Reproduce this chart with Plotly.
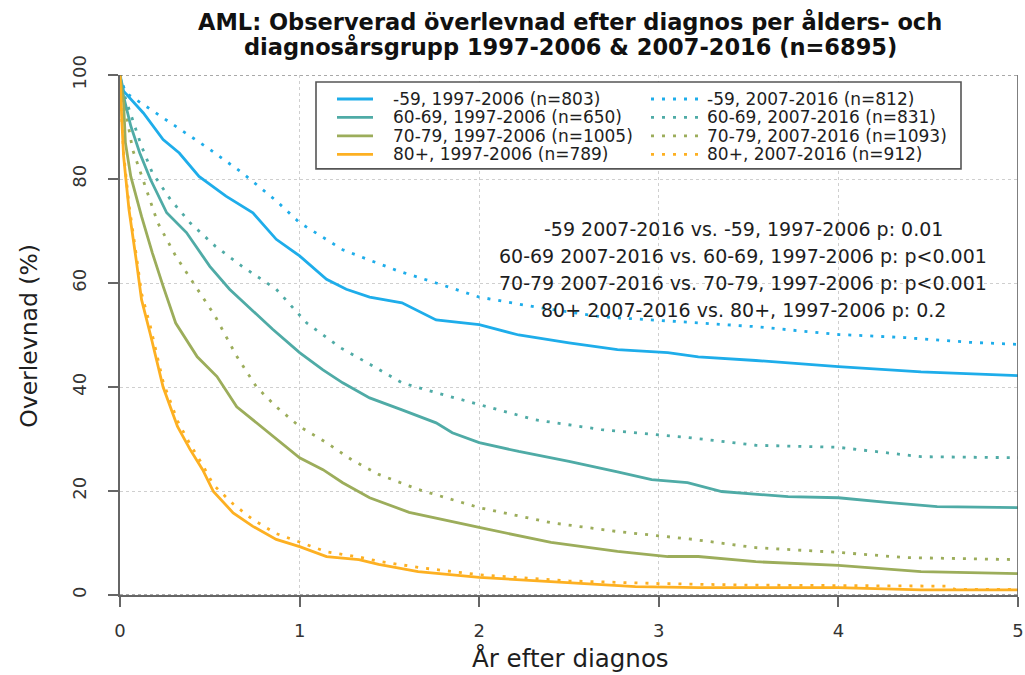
import plotly.graph_objects as go

# Kaplan-Meier observed survival (%) by age group and diagnosis period
t_u59_9706 = [0, 0.02, 0.13, 0.24, 0.33, 0.44, 0.59, 0.74, 0.87, 1.0, 1.15, 1.26, 1.39, 1.57, 1.76, 2.0,
              2.22, 2.5, 2.77, 3.05, 3.22, 3.54, 4.0, 4.46, 5.0]
s_u59_9706 = [100, 96.9, 92.7, 87.6, 85.0, 80.5, 76.7, 73.5, 68.4, 65.2, 60.7, 58.8, 57.3, 56.2, 52.9, 52.0,
              50.0, 48.5, 47.2, 46.6, 45.8, 45.1, 43.9, 42.9, 42.2]

t_u59_0716 = [0, 0.03, 0.17, 0.31, 0.5, 0.68, 0.87, 1.0, 1.24, 1.39, 1.55, 1.76, 2.0, 2.31, 2.68, 3.19,
              3.54, 4.0, 4.37, 4.73, 5.0]
s_u59_0716 = [100, 96.6, 93.4, 90.2, 85.7, 81.2, 75.8, 71.6, 66.4, 64.4, 62.3, 60.0, 57.3, 55.4, 53.5, 52.4,
              51.6, 50.1, 49.5, 48.6, 48.2]

t_6069_9706 = [0, 0.02, 0.06, 0.11, 0.17, 0.26, 0.37, 0.50, 0.61, 0.73, 0.85, 1.0, 1.13, 1.24, 1.39, 1.57,
               1.76, 1.85, 2.0, 2.22, 2.5, 2.77, 2.96, 3.16, 3.35, 3.72, 4.0, 4.27, 4.55, 5.0]
s_6069_9706 = [100, 95.9, 90.2, 85.0, 79.9, 73.5, 69.7, 63.2, 58.8, 54.9, 51.1, 46.6, 43.3, 40.8, 37.9, 35.6,
               33.1, 31.2, 29.3, 27.6, 25.7, 23.7, 22.2, 21.6, 19.9, 18.9, 18.7, 17.8, 17.0, 16.8]

t_6069_0716 = [0, 0.02, 0.07, 0.12, 0.18, 0.28, 0.39, 0.53, 0.68, 0.87, 1.04, 1.23, 1.40, 1.57, 1.76, 2.0,
               2.31, 2.68, 3.16, 3.54, 4.0, 4.46, 5.0]
s_6069_0716 = [100, 96.6, 91.4, 86.3, 81.2, 76.1, 71.6, 67.1, 63.2, 58.8, 52.3, 47.5, 44.2, 40.8, 38.9, 36.6,
               33.7, 31.8, 30.3, 28.8, 28.4, 26.6, 26.4]

t_7079_9706 = [0, 0.02, 0.03, 0.06, 0.12, 0.18, 0.24, 0.31, 0.43, 0.54, 0.65, 0.76, 0.87, 1.0, 1.13, 1.24,
               1.39, 1.61, 2.0, 2.4, 2.77, 3.05, 3.22, 3.54, 4.0, 4.46, 5.0]
s_7079_9706 = [100, 94.7, 87.0, 80.5, 72.8, 65.8, 59.4, 52.3, 45.8, 42.0, 36.2, 33.1, 29.9, 26.4, 24.1, 21.6,
               18.7, 15.9, 13.0, 10.1, 8.4, 7.4, 7.4, 6.4, 5.7, 4.5, 4.1]

t_7079_0716 = [0, 0.02, 0.07, 0.14, 0.21, 0.31, 0.42, 0.53, 0.65, 0.76, 0.87, 1.0, 1.15, 1.29, 1.44, 1.66,
               2.0, 2.4, 2.77, 3.19, 3.54, 4.0, 4.37, 5.0]
s_7079_0716 = [100, 95.3, 85.7, 78.6, 71.6, 65.2, 59.4, 53.6, 45.9, 40.0, 36.2, 32.4, 29.3, 26.0, 23.2, 20.3,
               16.8, 13.9, 12.2, 10.7, 9.1, 8.2, 7.2, 6.8]

t_80_9706 = [0, 0.005, 0.01, 0.02, 0.05, 0.09, 0.12, 0.17, 0.24, 0.32, 0.39, 0.46, 0.52, 0.63, 0.74, 0.87,
             1.0, 1.15, 1.33, 1.44, 1.66, 2.0, 2.5, 2.87, 3.22, 3.54, 4.0, 4.46, 5.0]
s_80_9706 = [100, 93.0, 91.4, 84.4, 74.1, 64.5, 56.8, 50.0, 40.0, 32.4, 28.0, 24.1, 19.9, 15.8, 13.2, 10.7,
             9.3, 7.4, 6.8, 5.9, 4.5, 3.4, 2.4, 1.6, 1.4, 1.4, 1.4, 1.0, 1.0]

t_80_0716 = [0, 0.005, 0.01, 0.02, 0.05, 0.09, 0.12, 0.17, 0.24, 0.32, 0.39, 0.46, 0.52, 0.63, 0.74, 0.87,
             1.0, 1.15, 1.33, 1.44, 1.66, 2.0, 2.5, 3.0, 3.5, 4.0, 4.6, 4.65, 5.0]
s_80_0716 = [100, 93.0, 91.4, 85.0, 75.0, 65.5, 58.0, 51.5, 41.0, 33.5, 29.0, 25.0, 21.2, 17.5, 14.5, 11.8,
             10.2, 8.3, 7.3, 6.5, 5.3, 3.9, 2.7, 2.2, 1.9, 1.8, 1.7, 1.1, 1.1]

legend_labels_9706 = ["-59, 1997-2006 (n=803)", "60-69, 1997-2006 (n=650)",
                      "70-79, 1997-2006 (n=1005)", "80+, 1997-2006 (n=789)"]
legend_labels_0716 = ["-59, 2007-2016 (n=812)", "60-69, 2007-2016 (n=831)",
                      "70-79, 2007-2016 (n=1093)", "80+, 2007-2016 (n=912)"]
pvalue_lines = ["-59 2007-2016 vs. -59, 1997-2006 p: 0.01",
                "60-69 2007-2016 vs. 60-69, 1997-2006 p: p<0.001",
                "70-79 2007-2016 vs. 70-79, 1997-2006 p: p<0.001",
                "80+ 2007-2016 vs. 80+, 1997-2006 p: 0.2"]

colors = ["#1EADEA", "#4FABA6", "#9CAD5B", "#FDB022"]
FONT = "DejaVu Sans"
TXT = "#1e1e1e"
DOT = "3px,8px"
LW = 2.8

curves_9706 = [(t_u59_9706, s_u59_9706), (t_6069_9706, s_6069_9706),
               (t_7079_9706, s_7079_9706), (t_80_9706, s_80_9706)]
curves_0716 = [(t_u59_0716, s_u59_0716), (t_6069_0716, s_6069_0716),
               (t_7079_0716, s_7079_0716), (t_80_0716, s_80_0716)]

fig = go.Figure()
for i in range(4):
    t, s = curves_0716[i]
    fig.add_trace(go.Scatter(x=t, y=s, mode="lines", name=legend_labels_0716[i],
                             line=dict(color=colors[i], width=LW, dash=DOT), showlegend=False))
for i in range(4):
    t, s = curves_9706[i]
    fig.add_trace(go.Scatter(x=t, y=s, mode="lines", name=legend_labels_9706[i],
                             line=dict(color=colors[i], width=LW), showlegend=False))

# plot area in pixels: left 120, right 1018, top 75, bottom 595.5
PL, PR, PT, PB = 120, 1018, 75, 595.5

def px(x):
    return (x - PL) / (PR - PL)

def py(y):
    return (PB - y) / (PB - PT)

shapes = []
# darker dotted reference lines at 0 % and 100 %, frame on the right at 5 years
for yv in (0, 100):
    shapes.append(dict(type="line", xref="paper", yref="y", x0=0, x1=1, y0=yv, y1=yv,
                       line=dict(color="#555555", width=1.2, dash="dot")))
shapes.append(dict(type="line", xref="x", yref="paper", x0=5, x1=5, y0=0, y1=1,
                   line=dict(color="#555555", width=1.5)))

# legend box
shapes.append(dict(type="rect", xref="paper", yref="paper", x0=px(316), x1=px(961),
                   y0=py(169), y1=py(82), line=dict(color="#555555", width=1.6),
                   fillcolor="white", layer="above"))

annotations = []
rows = [99, 117.5, 136, 154.5]
for i in range(4):
    yy = py(rows[i])
    shapes.append(dict(type="line", xref="paper", yref="paper", x0=px(337), x1=px(373), y0=yy, y1=yy,
                       line=dict(color=colors[i], width=LW), layer="above"))
    shapes.append(dict(type="line", xref="paper", yref="paper", x0=px(651), x1=px(699), y0=yy, y1=yy,
                       line=dict(color=colors[i], width=LW, dash=DOT), layer="above"))
    annotations.append(dict(xref="paper", yref="paper", x=px(391), y=yy, text=legend_labels_9706[i],
                            showarrow=False, xanchor="left", yanchor="middle",
                            font=dict(family=FONT, size=17, color=TXT)))
    annotations.append(dict(xref="paper", yref="paper", x=px(705), y=yy, text=legend_labels_0716[i],
                            showarrow=False, xanchor="left", yanchor="middle",
                            font=dict(family=FONT, size=17, color=TXT)))

# p-value text block
for yline, txt in zip([229, 256, 283, 310], pvalue_lines):
    annotations.append(dict(xref="paper", yref="paper", x=px(743), y=py(yline), text=txt,
                            showarrow=False, xanchor="center", yanchor="middle",
                            font=dict(family=FONT, size=19, color=TXT)))

# title, two lines
annotations.append(dict(xref="paper", yref="paper", x=px(570), y=py(22),
                        text="<b>AML: Observerad överlevnad efter diagnos per ålders- och</b>",
                        showarrow=False, xanchor="center", yanchor="middle",
                        font=dict(family=FONT, size=22.5, color="#111111")))
annotations.append(dict(xref="paper", yref="paper", x=px(570), y=py(47),
                        text="<b>diagnosårsgrupp 1997-2006 & 2007-2016 (n=6895)</b>",
                        showarrow=False, xanchor="center", yanchor="middle",
                        font=dict(family=FONT, size=22.5, color="#111111")))

# axis titles
annotations.append(dict(xref="paper", yref="paper", x=px(570), y=py(659), text="År efter diagnos",
                        showarrow=False, xanchor="center", yanchor="middle",
                        font=dict(family=FONT, size=24.5, color=TXT)))
annotations.append(dict(xref="paper", yref="paper", x=px(29), y=py(336), text="Overlevnad (%)",
                        showarrow=False, xanchor="center", yanchor="middle", textangle=-90,
                        font=dict(family=FONT, size=23.5, color=TXT)))

axis_common = dict(showline=True, linecolor="#666666", linewidth=1.5, ticks="outside", ticklen=10,
                   tickwidth=1.5, tickcolor="#666666", showgrid=True, gridcolor="#cfcfcf",
                   griddash="dot", gridwidth=1, zeroline=False, automargin=False,
                   ticklabeloverflow="allow",
                   tickfont=dict(family=FONT, size=18, color="#333333"))

fig.update_layout(
    width=1025, height=675,
    margin=dict(l=PL, r=1025 - PR, t=PT, b=675 - PB),
    paper_bgcolor="white", plot_bgcolor="white",
    showlegend=False,
    xaxis=dict(range=[0, 5], tickvals=[0, 1, 2, 3, 4, 5], ticklabelstandoff=9, **axis_common),
    yaxis=dict(range=[0, 100], tickvals=[0, 20, 40, 60, 80, 100], tickangle=-90,
               ticklabelstandoff=15, **axis_common),
    shapes=shapes,
    annotations=annotations,
)

fig.write_html("out.html")
